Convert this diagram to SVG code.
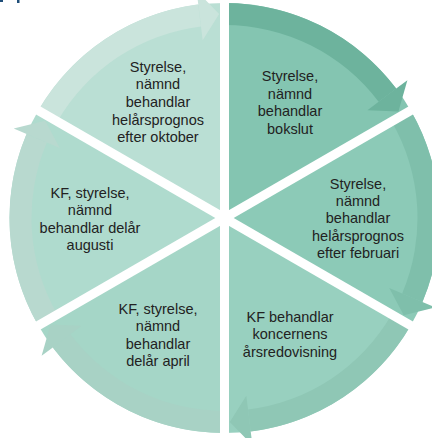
<svg xmlns="http://www.w3.org/2000/svg" width="432" height="438" viewBox="0 0 432 438">
<style>
text{font-family:"Liberation Sans",Arial,sans-serif;font-size:14.5px;fill:#222;text-anchor:middle}
.sep{stroke:#fff;stroke-width:9;fill:none}
</style>
<rect width="432" height="438" fill="#fff"/>
<rect x="0" y="0" width="3" height="2" fill="#1f4e79"/>
<rect x="17" y="0" width="2.5" height="3" fill="#1f4e79"/>

<g id="seg1">
<path d="M224.5,218 L224.5,3 A215,215 0 0 1 410.69,110.5 Z" fill="#84c5b1"/>
<path d="M224.5,3 A215,215 0 0 1 396.2,88.61 L378.63,101.85 A193,193 0 0 0 224.5,25 Z" fill="#6db39d"/>
<text x="290" y="81">Styrelse,</text>
<text x="290" y="98.5">nämnd</text>
<text x="290" y="116">behandlar</text>
<text x="290" y="133.5">bokslut</text>
</g>
<g id="seg2">
<path d="M224.5,218 L410.69,110.5 A215,215 0 0 1 410.69,325.5 Z" fill="#8ccab7"/>
<path d="M410.69,110.5 A215,215 0 0 1 422.41,302 L402.16,293.41 A193,193 0 0 0 391.64,121.5 Z" fill="#7fbfab"/>
<text x="358" y="188.5">Styrelse,</text>
<text x="358" y="205.5">nämnd</text>
<text x="358" y="223">behandlar</text>
<text x="358" y="240.5">helårsprognos</text>
<text x="358" y="258">efter februari</text>
</g>
<g id="seg3">
<path d="M224.5,218 L410.69,325.5 A215,215 0 0 1 224.5,433 Z" fill="#98d0bf"/>
<path d="M410.69,325.5 A215,215 0 0 1 250.71,431.39 L248.03,409.55 A193,193 0 0 0 391.64,314.5 Z" fill="#8fc7b5"/>
<text x="290" y="322">KF behandlar</text>
<text x="290" y="339">koncernens</text>
<text x="290" y="357">årsredovisning</text>
</g>
<g id="seg4">
<path d="M224.5,218 L224.5,433 A215,215 0 0 1 38.31,325.5 Z" fill="#a5d6c7"/>
<path d="M224.5,433 A215,215 0 0 1 52.8,347.39 L70.37,334.15 A193,193 0 0 0 224.5,411 Z" fill="#a8d2c5"/>
<text x="158" y="313.5">KF, styrelse,</text>
<text x="158" y="331">nämnd</text>
<text x="158" y="348.5">behandlar</text>
<text x="158" y="366">delår april</text>
</g>
<g id="seg5">
<path d="M224.5,218 L38.31,325.5 A215,215 0 0 1 38.31,110.5 Z" fill="#afdbce"/>
<path d="M38.31,325.5 A215,215 0 0 1 26.59,134 L46.84,142.59 A193,193 0 0 0 57.36,314.5 Z" fill="#b8d9cf"/>
<text x="90" y="197.5">KF, styrelse,</text>
<text x="90" y="215">nämnd</text>
<text x="90" y="233">behandlar delår</text>
<text x="90" y="250">augusti</text>
</g>
<g id="seg6">
<path d="M224.5,218 L38.31,110.5 A215,215 0 0 1 224.5,3 Z" fill="#badfd4"/>
<path d="M38.31,110.5 A215,215 0 0 1 198.29,4.61 L200.97,26.45 A193,193 0 0 0 57.36,121.5 Z" fill="#cae4dc"/>
<text x="158" y="71.5">Styrelse,</text>
<text x="158" y="89">nämnd</text>
<text x="158" y="107">behandlar</text>
<text x="158" y="124.5">helårsprognos</text>
<text x="158" y="142">efter oktober</text>
</g>

<g id="separators">
<line class="sep" x1="224.5" y1="218" x2="224.5" y2="-22"/>
<line class="sep" x1="224.5" y1="218" x2="432.35" y2="98"/>
<line class="sep" x1="224.5" y1="218" x2="432.35" y2="338"/>
<line class="sep" x1="224.5" y1="218" x2="224.5" y2="458"/>
<line class="sep" x1="224.5" y1="218" x2="16.65" y2="338"/>
<line class="sep" x1="224.5" y1="218" x2="16.65" y2="98"/>
</g>

<g id="connectors">
<polygon points="407.38,80.19 398.43,111.41 367.45,110.28 378.63,101.85 396.2,88.61" fill="#6db39d"/>
<polygon points="435.29,307.47 403.78,315.35 389.27,287.94 402.16,293.41 422.41,302" fill="#7fbfab"/>
<polygon points="252.42,445.28 229.84,421.94 246.32,395.66 248.03,409.55 250.71,431.39" fill="#8fc7b5"/>
<polygon points="41.62,355.81 50.57,324.59 81.55,325.72 70.37,334.15 52.8,347.39" fill="#a8d2c5"/>
<polygon points="13.71,128.53 45.22,120.65 59.73,148.06 46.84,142.59 26.59,134" fill="#b8d9cf"/>
<polygon points="196.58,-9.28 219.16,14.06 202.68,40.34 200.97,26.45 198.29,4.61" fill="#cae4dc"/>
</g>
</svg>
